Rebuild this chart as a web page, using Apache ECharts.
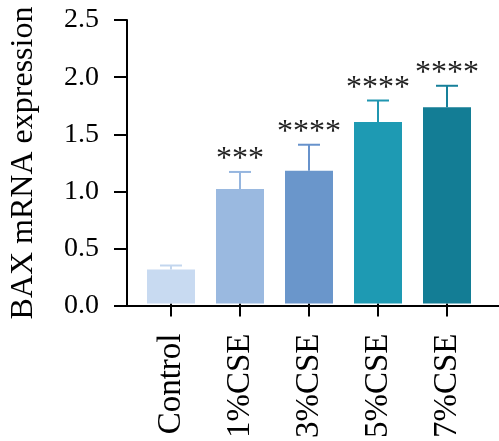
<!DOCTYPE html>
<html>
<head>
<meta charset="utf-8">
<script src="https://cdn.jsdelivr.net/npm/echarts@6/dist/echarts.min.js"></script>
<style>
  html, body { margin: 0; padding: 0; background: #fff; }
  #chart { width: 499px; height: 441px; }
</style>
</head>
<body>
<div id="chart"></div>
<script>
// values
var groups = ['Control', '1%CSE', '3%CSE', '5%CSE', '7%CSE'];
var means = [0.30, 1.01, 1.17, 1.60, 1.73];
var errs = [0.035, 0.15, 0.23, 0.19, 0.19];
var stars = ['', '***', '****', '****', '****'];
var barColors = ['#c8daf1', '#9ab9e0', '#6a96cb', '#1e9ab3', '#137d95'];
var errColors = ['#c3d6ee', '#96b6df', '#6792cb', '#2096b0', '#17809a'];
var yTicks = [0, 0.5, 1.0, 1.5, 2.0, 2.5];

var font = '"Liberation Serif", "DejaVu Serif", serif';
var chart = echarts.init(document.getElementById('chart'));

var barData = means.map(function (v, i) {
    return { value: v, itemStyle: { color: barColors[i] } };
});
var errData = means.map(function (v, i) { return [i, v, errs[i]]; });

var option = {
    animation: false,
    grid: [
        { left: 123, right: 0, top: 20, bottom: 135 },
        { left: 136.5, right: 17.5, top: 20, bottom: 135 }
    ],
    xAxis: [{
        gridIndex: 0,
        type: 'value',
        min: 0, max: 1,
        axisLine: { show: true, lineStyle: { color: '#000', width: 2 } },
        axisTick: { show: false },
        axisLabel: { show: false },
        splitLine: { show: false }
    }, {
        gridIndex: 1,
        type: 'category',
        data: groups,
        axisLine: { show: false },
        axisTick: { show: true, alignWithLabel: true, length: 13, lineStyle: { color: '#000', width: 2 } },
        axisLabel: {
            rotate: 90,
            margin: 30,
            color: '#000',
            fontFamily: font,
            fontSize: 33
        }
    }],
    yAxis: [{
        gridIndex: 0,
        type: 'value',
        min: yTicks[0], max: yTicks[yTicks.length - 1], interval: 0.5,
        name: 'BAX mRNA expression',
        nameLocation: 'middle',
        nameGap: 87,
        nameTextStyle: { color: '#000', fontFamily: font, fontSize: 32 },
        axisLine: { show: true, lineStyle: { color: '#000', width: 2 } },
        axisTick: { show: true, length: 13, lineStyle: { color: '#000', width: 2 } },
        axisLabel: {
            margin: 28,
            color: '#000',
            fontFamily: font,
            fontSize: 28,
            formatter: function (v) { return v.toFixed(1); }
        },
        splitLine: { show: false }
    }, {
        gridIndex: 1,
        type: 'value',
        min: 0, max: 2.5,
        show: false
    }],
    series: [{
        type: 'bar',
        xAxisIndex: 1,
        yAxisIndex: 1,
        barWidth: 48,
        data: barData
    }, {
        type: 'custom',
        xAxisIndex: 1,
        yAxisIndex: 1,
        data: errData,
        z: 3,
        renderItem: function (params, api) {
            var i = api.value(0);
            var base = api.coord([i, api.value(1)]);
            var top = api.coord([i, api.value(1) + api.value(2)]);
            var c = errColors[params.dataIndex];
            var half = 11;
            return {
                type: 'group',
                children: [{
                    type: 'line',
                    shape: { x1: base[0], y1: base[1], x2: top[0], y2: top[1] },
                    style: { stroke: c, lineWidth: 2 }
                }, {
                    type: 'line',
                    shape: { x1: top[0] - half, y1: top[1], x2: top[0] + half, y2: top[1] },
                    style: { stroke: c, lineWidth: 2 }
                }, {
                    type: 'text',
                    x: top[0],
                    y: top[1] + 4,
                    style: {
                        text: stars[params.dataIndex],
                        fill: '#222',
                        font: '32px ' + font,
                        align: 'center',
                        verticalAlign: 'bottom'
                    }
                }]
            };
        }
    }]
};

chart.setOption(option);
</script>
</body>
</html>
